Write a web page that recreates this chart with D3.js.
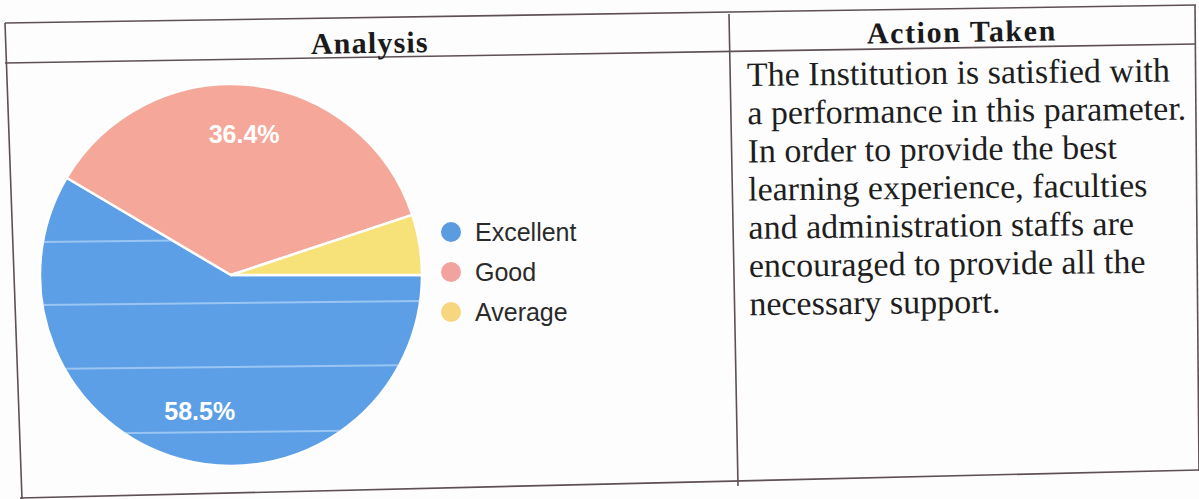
<!DOCTYPE html>
<html>
<head>
<meta charset="utf-8">
<script src="https://cdn.jsdelivr.net/npm/d3@7"></script>
<style>
	body{margin:0;background:#fdfdfd;}
	svg{display:block;}
</style>
</head>
<body>
<svg width="1199" height="499"></svg>
<script>
"use strict";

var categories=["Excellent","Good","Average"];
var values=[58.5,36.4,5.1];
var labels=["58.5%","36.4%",""];
var colors=["#5d9fe6","#f5a79a","#f7e27a"];
var legendColors=["#5b9be0","#f2a3a0","#f6d67f"];

var headers=["Analysis","Action Taken"];
var actionLines=[
	"The Institution is satisfied with",
	"a performance in this parameter.",
	"In order to provide the best",
	"learning experience, faculties",
	"and administration staffs are",
	"encouraged to provide all the",
	"necessary support."
];

var svg=d3.select("svg");

// table frame (photographed page, a bit skewed)
var border="#5e5055";
var frame=[
	[[5,23],[1196,5]],
	[[5,63],[1196,44]],
	[[5,23],[22,499]],
	[[729,14],[738,486]],
	[[1195,5],[1199,471]],
	[[20,498],[1199,470]]
];
svg.append("g")
	.selectAll("line")
	.data(frame)
	.enter()
	.append("line")
	.attr("x1",function(d){return d[0][0];})
	.attr("y1",function(d){return d[0][1];})
	.attr("x2",function(d){return d[1][0];})
	.attr("y2",function(d){return d[1][1];})
	.attr("stroke",border)
	.attr("stroke-width",1.6);

// headers
svg.append("text")
	.attr("x",370).attr("y",53)
	.attr("transform","rotate(-0.9,370,53)")
	.attr("text-anchor","middle")
	.style("font-family","'Liberation Serif','Times New Roman',serif")
	.style("font-weight","bold")
	.style("font-size","30px")
	.style("letter-spacing","1.2px")
	.style("fill","#1a1a1a")
	.text(headers[0]);

svg.append("text")
	.attr("x",962).attr("y",42)
	.attr("transform","rotate(-0.9,962,42)")
	.attr("text-anchor","middle")
	.style("font-family","'Liberation Serif','Times New Roman',serif")
	.style("font-weight","bold")
	.style("font-size","30px")
	.style("letter-spacing","1.6px")
	.style("fill","#1a1a1a")
	.text(headers[1]);

// action text
svg.append("g")
	.attr("transform","rotate(-0.6,748,86)")
	.selectAll("text")
	.data(actionLines)
	.enter()
	.append("text")
	.attr("x",747)
	.attr("y",function(d,i){return 86+i*38.2;})
	.style("font-family","'Liberation Serif','Times New Roman',serif")
	.style("font-size","34px")
	.style("fill","#1e1e1e")
	.text(function(d){return d;});

// pie
var cx=231, cy=275, radius=191;

var pie=d3.pie()
	.sort(null)
	.startAngle(Math.PI/2)
	.endAngle(Math.PI/2+2*Math.PI);

var arcs=pie(values);

var arc=d3.arc().innerRadius(0).outerRadius(radius);
var labelArc=d3.arc().innerRadius(radius*0.74).outerRadius(radius*0.74);

var pieG=svg.append("g").attr("transform","translate("+cx+","+cy+")");

pieG.selectAll("path.slice")
	.data(arcs)
	.enter()
	.append("path")
	.attr("class","slice")
	.attr("d",arc)
	.attr("fill",function(d,i){return colors[i];})
	.attr("stroke","#ffffff")
	.attr("stroke-width",2.5)
	.attr("stroke-linejoin","round");

// faint screen stripes on the blue slice (photo artifact)
pieG.append("clipPath")
	.attr("id","blueClip")
	.append("path")
	.attr("d",arc(arcs[0]));

pieG.append("g")
	.attr("clip-path","url(#blueClip)")
	.selectAll("line")
	.data([240,303,367,432])
	.enter()
	.append("line")
	.attr("x1",-radius).attr("x2",radius)
	.attr("y1",function(d){return d-cy+2;})
	.attr("y2",function(d){return d-cy-2;})
	.attr("stroke","#d8ecff")
	.attr("stroke-opacity",0.5)
	.attr("stroke-width",2);

pieG.selectAll("text.pct")
	.data(arcs)
	.enter()
	.append("text")
	.attr("class","pct")
	.attr("x",function(d,i){return labelArc.centroid(d)[0]+(i===0?6:-2);})
	.attr("y",function(d){return labelArc.centroid(d)[1]+9;})
	.attr("text-anchor","middle")
	.style("font-family","'Liberation Sans',Arial,sans-serif")
	.style("font-weight","bold")
	.style("font-size","25px")
	.style("fill","#ffffff")
	.text(function(d,i){return labels[i];});

// legend
var legendY=d3.scalePoint().domain(categories).range([232,312]);

var legend=svg.append("g")
	.selectAll("g")
	.data(categories)
	.enter()
	.append("g")
	.attr("transform",function(d){return "translate(451,"+legendY(d)+")";});

legend.append("circle")
	.attr("r",10)
	.attr("fill",function(d,i){return legendColors[i];});

legend.append("text")
	.attr("x",24)
	.attr("y",8.5)
	.style("font-family","'Liberation Sans',Arial,sans-serif")
	.style("font-size","25px")
	.style("fill","#2a2a2a")
	.text(function(d){return d;});
</script>
</body>
</html>
